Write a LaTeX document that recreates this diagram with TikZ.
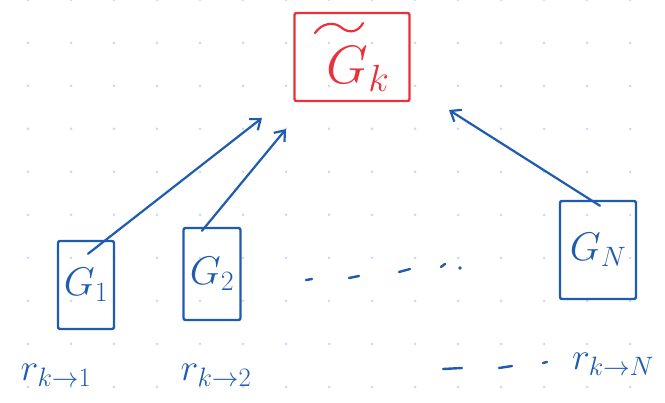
\RequirePackage{fix-cm}
\documentclass[tikz,border=0pt]{standalone}
\usetikzlibrary{arrows.meta}
\definecolor{inkblue}{HTML}{1F5CB0}
\definecolor{inkred}{HTML}{E8323C}
\definecolor{griddot}{HTML}{C9DCF4}
\tikzset{
  sketchbox/.style={draw=inkblue, line width=2.4pt, rounded corners=2pt, inner sep=0pt, text=inkblue},
  redbox/.style={draw=inkred, line width=2.4pt, rounded corners=2pt, inner sep=0pt, text=inkred,
    minimum width=115, minimum height=88},
  sketcharrow/.style={draw=inkblue, line width=2.2pt, line cap=round, -{Straight Barb[length=9pt,width=14pt]}},
  label/.style={text=inkblue, inner sep=0pt},
  dashline/.style={draw=inkblue, line width=2.4pt, line cap=round}
}
\begin{document}
\begin{tikzpicture}[x=1pt,y=-1pt]
\useasboundingbox (0,0) rectangle (665,403);
\fill[white] (0,0) rectangle (665,403);
% dotted grid
\foreach \i in {0,...,15} {
  \foreach \j in {0,...,9} {
    \fill[griddot] ({28+43*\i},{43*\j}) circle (1.5);
  }
}
% red target box
\node[redbox, font=\fontsize{54}{58}\selectfont] (gt) at (352,57) {\hspace{12pt}\raisebox{0pt}[56pt][3pt]{$G_{k}$}};
% tilde over the G
\draw[inkred, line width=2.2pt, line cap=round]
  ([xshift=-37,yshift=24]gt.center) .. controls ([xshift=-30,yshift=34]gt.center) and ([xshift=-18,yshift=36]gt.center) .. ([xshift=-10,yshift=29]gt.center)
  .. controls ([xshift=-4,yshift=24]gt.center) and ([xshift=6,yshift=24]gt.center) .. ([xshift=11,yshift=34]gt.center);
% client boxes
\node[sketchbox, minimum width=56, minimum height=88, font=\fontsize{40}{44}\selectfont] (g1) at (86,285) {$G_{1}$};
\node[sketchbox, minimum width=57, minimum height=92, font=\fontsize{40}{44}\selectfont] (g2) at (212,274) {$G_{2}$};
\node[sketchbox, minimum width=76, minimum height=98, font=\fontsize{40}{44}\selectfont] (gn) at (598,250) {$G_{N}$};
% arrow endpoints
\coordinate (e1) at (262,118);
\coordinate (e2) at (286,129);
\coordinate (en) at (449,110);
\draw[sketcharrow] ([xshift=2,yshift=-14]g1.north) -- (e1);
\draw[sketcharrow] ([xshift=-10,yshift=-4]g2.north) -- (e2);
\draw[sketcharrow] ([xshift=2,yshift=-6]gn.north) -- (en);
% ellipsis between boxes
\coordinate (d1) at (306,280);
\coordinate (d2) at (312,279);
\coordinate (d3) at (349,278);
\coordinate (d4) at (359,276);
\coordinate (d5) at (399,272);
\coordinate (d6) at (410,269);
\coordinate (d7) at (441,267);
\coordinate (d8) at (445,264);
\draw[dashline] (d1) -- (d2);
\draw[dashline] (d3) -- (d4);
\draw[dashline] (d5) -- (d6);
\draw[dashline] (d7) -- (d8);
\fill[inkblue] (460,268) circle (1.8);
% labels
\node[label, font=\fontsize{38}{42}\selectfont] (r1) at (56,375) {$r_{k\to 1}$};
\node[label, font=\fontsize{38}{42}\selectfont] (r2) at (216,375) {$r_{k\to 2}$};
\node[label, font=\fontsize{38}{42}\selectfont] (rn) at (613,364) {$r_{k\to N}$};
\coordinate (l1) at (443,369);
\coordinate (l2) at (462,368);
\coordinate (l3) at (499,368);
\coordinate (l4) at (512,366);
\coordinate (l5) at (543,363);
\coordinate (l6) at (547,362);
\draw[dashline] (l1) -- (l2);
\draw[dashline] (l3) -- (l4);
\draw[dashline] (l5) -- (l6);
\end{tikzpicture}
\end{document}
